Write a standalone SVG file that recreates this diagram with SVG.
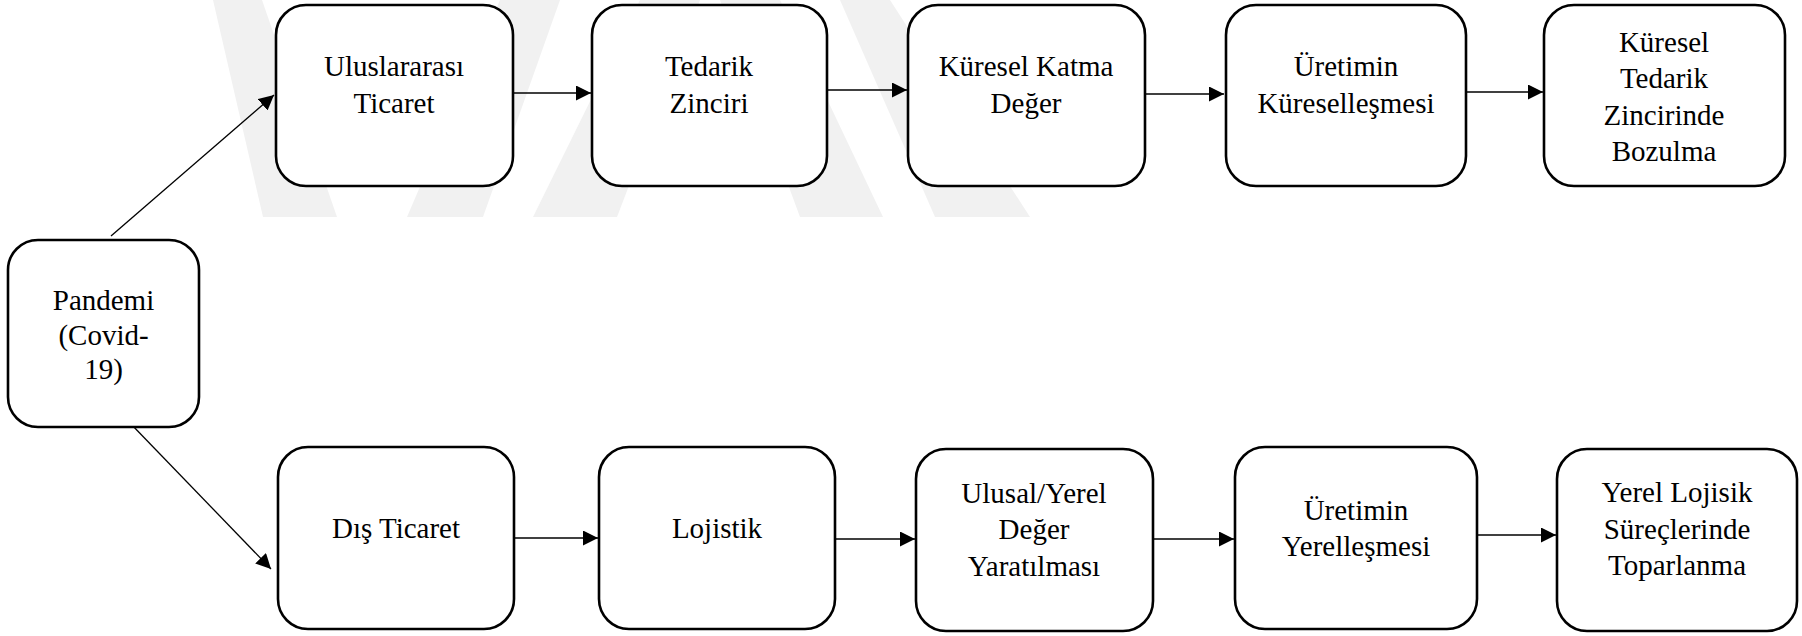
<svg xmlns="http://www.w3.org/2000/svg" width="1802" height="636" viewBox="0 0 1802 636">
<style>
.box{fill:#fff;stroke:#000;stroke-width:2.6}
.lbl{font-family:'Liberation Serif','Times New Roman',Times,'DejaVu Serif',serif;font-size:29px;fill:#000;text-anchor:middle}
.con{stroke:#000;stroke-width:1.3;fill:none;marker-end:url(#ah)}
.wm{fill:#f1f1f1}
</style>
<defs>
<marker id="ah" markerUnits="userSpaceOnUse" markerWidth="16" markerHeight="16" refX="15" refY="7.5" orient="auto">
<path d="M0,0 L15,7.5 L0,15 Z" fill="#000"/>
</marker>
</defs>
<rect width="1802" height="636" fill="#fff"/>
<g id="watermark">
<polygon class="wm" points="213,0 262,0 337,217 263,217"/>
<polygon class="wm" points="407,217 483,217 560,0 500,0"/>
<polygon class="wm" points="533,217 617,217 700,0 640,0"/>
<polygon class="wm" points="720,0 780,0 883,217 800,217"/>
<polygon class="wm" points="840,0 890,0 1030,217 935,217"/>
</g>
<g id="connectors">
<line class="con" x1="111" y1="236" x2="274" y2="95"/>
<line class="con" x1="130" y1="423" x2="271" y2="569"/>
<line class="con" x1="513" y1="93" x2="591" y2="93"/>
<line class="con" x1="828" y1="90" x2="907" y2="90"/>
<line class="con" x1="1146" y1="94" x2="1224" y2="94"/>
<line class="con" x1="1467" y1="92" x2="1543" y2="92"/>
<line class="con" x1="515" y1="538" x2="598" y2="538"/>
<line class="con" x1="836" y1="539" x2="915" y2="539"/>
<line class="con" x1="1154" y1="539" x2="1234" y2="539"/>
<line class="con" x1="1478" y1="535" x2="1556" y2="535"/>
</g>
<g id="n_pandemi">
<rect class="box" x="8" y="240" width="191" height="187" rx="30"/>
<text class="lbl" x="103.5" y="310">Pandemi</text>
<text class="lbl" x="103.5" y="345">(Covid-</text>
<text class="lbl" x="103.5" y="379">19)</text>
</g>
<g id="n_uluslararasi">
<rect class="box" x="276" y="5" width="237" height="181" rx="30"/>
<text class="lbl" x="394" y="76">Uluslararası</text>
<text class="lbl" x="394" y="113">Ticaret</text>
</g>
<g id="n_tedarik">
<rect class="box" x="592" y="5" width="235" height="181" rx="30"/>
<text class="lbl" x="709" y="76">Tedarik</text>
<text class="lbl" x="709" y="113">Zinciri</text>
</g>
<g id="n_katma">
<rect class="box" x="908" y="5" width="237" height="181" rx="30"/>
<text class="lbl" x="1026" y="76">Küresel Katma</text>
<text class="lbl" x="1026" y="113">Değer</text>
</g>
<g id="n_kuresellesme">
<rect class="box" x="1226" y="5" width="240" height="181" rx="30"/>
<text class="lbl" x="1346" y="76">Üretimin</text>
<text class="lbl" x="1346" y="113">Küreselleşmesi</text>
</g>
<g id="n_bozulma">
<rect class="box" x="1544" y="5" width="241" height="181" rx="30"/>
<text class="lbl" x="1664" y="52">Küresel</text>
<text class="lbl" x="1664" y="88">Tedarik</text>
<text class="lbl" x="1664" y="125">Zincirinde</text>
<text class="lbl" x="1664" y="161">Bozulma</text>
</g>
<g id="n_dis">
<rect class="box" x="278" y="447" width="236" height="182" rx="30"/>
<text class="lbl" x="396" y="538">Dış Ticaret</text>
</g>
<g id="n_lojistik">
<rect class="box" x="599" y="447" width="236" height="182" rx="30"/>
<text class="lbl" x="717" y="538">Lojistik</text>
</g>
<g id="n_ulusal">
<rect class="box" x="916" y="449" width="237" height="182" rx="30"/>
<text class="lbl" x="1034" y="503">Ulusal/Yerel</text>
<text class="lbl" x="1034" y="539">Değer</text>
<text class="lbl" x="1034" y="576">Yaratılması</text>
</g>
<g id="n_yerellesme">
<rect class="box" x="1235" y="447" width="242" height="182" rx="30"/>
<text class="lbl" x="1356" y="520">Üretimin</text>
<text class="lbl" x="1356" y="556">Yerelleşmesi</text>
</g>
<g id="n_toparlanma">
<rect class="box" x="1557" y="449" width="240" height="182" rx="30"/>
<text class="lbl" x="1677" y="502">Yerel Lojisik</text>
<text class="lbl" x="1677" y="539">Süreçlerinde</text>
<text class="lbl" x="1677" y="575">Toparlanma</text>
</g>
</svg>
